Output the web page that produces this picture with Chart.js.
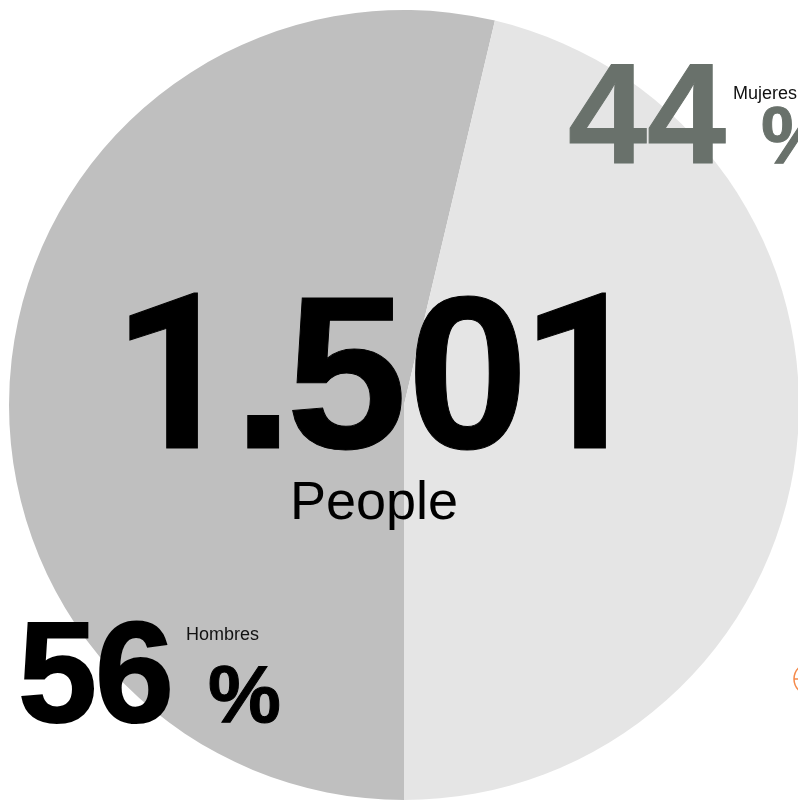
<!DOCTYPE html>
<html>
<head>
<meta charset="utf-8">
<script src="https://cdn.jsdelivr.net/npm/chart.js@4"></script>
<style>
html, body { margin: 0; padding: 0; background: #fff; overflow: hidden; }
.wrap { position: relative; width: 810px; height: 810px; }
</style>
</head>
<body>
<div class="wrap"><canvas class="people-chart"></canvas></div>
<script>
const categories = ['Hombres', 'Mujeres'];
const people = [806, 695];
const percents = ['56', '44'];
const total = '1.501';
const totalLabel = 'People';

const font = '"Liberation Sans", Arial, sans-serif';
// the 1 in Liberation has a foot, Roboto's does not
const oneFont = 'Roboto, "Liberation Sans", sans-serif';
// right edge of each character of the total
const totalEdges = [198, 279, 402, 520, 606];

function label(c, text, x, y, size, color, bold, heavy, spacing, family) {
    c.font = (bold ? 'bold ' : '') + size + 'px ' + (family || font);
    c.fillStyle = color;
    c.textAlign = 'left';
    c.textBaseline = 'alphabetic';
    c.letterSpacing = (spacing || 0) + 'px';
    c.fillText(text, x, y);
    if (heavy) {
        c.strokeStyle = color;
        c.lineWidth = heavy;
        c.strokeText(text, x, y);
    }
}

function drawTotal(c) {
    total.split('').forEach((ch, i) => {
        const family = ch === '1' ? oneFont : font;
        c.font = 'bold 218px ' + family;
        c.letterSpacing = '0px';
        const x = totalEdges[i] - c.measureText(ch).actualBoundingBoxRight;
        label(c, ch, x, 448, 218, '#000', true, 1, 0, family);
    });
}

// big numbers on top of the pie
const textPlugin = {
    id: 'bigText',
    afterDraw(chart) {
        const c = chart.ctx;
        c.save();
        drawTotal(c);
        label(c, totalLabel, 290, 519, 54, '#000', false);

        label(c, percents[0], 18, 722, 142, '#000', true, 2, -2);
        label(c, '%', 208, 722, 82, '#000', true, 1);
        label(c, categories[0], 186, 640, 18, '#111', false);

        label(c, percents[1], 568, 163, 142, '#69716b', true, 1);
        label(c, '%', 761, 163, 82, '#69716b', true, 1);
        label(c, categories[1], 733, 99, 18, '#111', false);

        // bit of the icon cut off at the right edge
        c.strokeStyle = '#f58a4b';
        c.lineWidth = 1.5;
        c.beginPath();
        c.arc(810, 679, 16, 0, Math.PI * 2);
        c.moveTo(794, 679);
        c.lineTo(798, 679);
        c.stroke();
        c.restore();
    }
};

new Chart(document.querySelector('.people-chart'), {
    type: 'pie',
    data: {
        labels: categories,
        datasets: [{
            data: people,
            backgroundColor: ['#bfbfbf', '#e5e5e5'],
            borderWidth: 0
        }]
    },
    options: {
        responsive: true,
        maintainAspectRatio: false,
        rotation: 180,
        animation: false,
        layout: { padding: { left: 9, right: 11, top: 10, bottom: 10 } },
        plugins: {
            legend: { display: false },
            tooltip: { enabled: false }
        }
    },
    plugins: [textPlugin]
});
</script>
</body>
</html>
